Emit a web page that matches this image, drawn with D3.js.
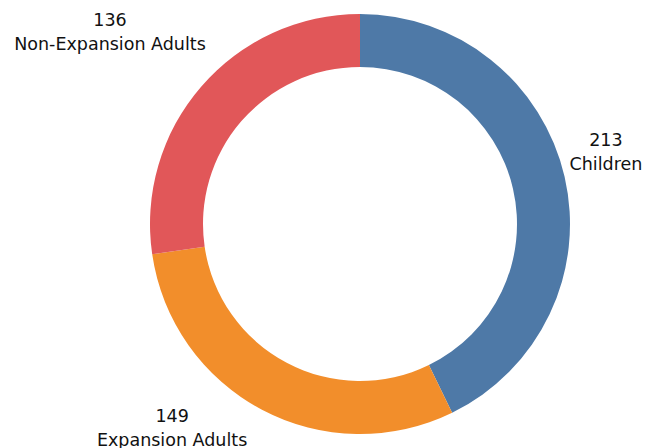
<!DOCTYPE html>
<html>
<head>
<meta charset="utf-8">
<script src="https://cdn.jsdelivr.net/npm/d3@7"></script>
<style>
  body { margin: 0; background: #fff; }
  svg text { font-family: "DejaVu Sans", sans-serif; font-size: 17.5px; fill: #111; }
</style>
</head>
<body>
<div id="chart"></div>
<script>
// enrollment groups (clockwise from 12 o'clock)
var groups = ["Children", "Expansion Adults", "Non-Expansion Adults"];
var counts = [213, 149, 136];
var colours = ["#4e79a7", "#f28e2b", "#e15759"];

// label spots: angle (deg clockwise from top) and distance from centre of the first line
var labelAngle = [72.4, 223.5, 308.4];
var labelDist = [258, 273, 319];

var width = 649, height = 448;
var cx = 360, cy = 224;

var svg = d3.select("#chart").append("svg")
  .attr("width", width)
  .attr("height", height);

var g = svg.append("g")
  .attr("transform", "translate(" + cx + "," + cy + ")");

var pie = d3.pie().sort(null).value(function (d) { return d; });
var arc = d3.arc().innerRadius(157).outerRadius(210);

var slices = pie(counts);

g.selectAll("path")
  .data(slices)
  .enter().append("path")
  .attr("d", arc)
  .attr("fill", function (d, i) { return colours[i]; });

// two-line labels: value then group name
var labels = g.selectAll("text")
  .data(slices)
  .enter().append("text")
  .attr("text-anchor", "middle")
  .attr("transform", function (d, i) {
    var a = labelAngle[i] * Math.PI / 180;
    return "translate(" + (Math.sin(a) * labelDist[i]) + "," + (-Math.cos(a) * labelDist[i]) + ")";
  });

labels.append("tspan")
  .attr("x", 0)
  .text(function (d) { return d.data; });

labels.append("tspan")
  .attr("x", 0)
  .attr("dy", 24)
  .text(function (d, i) { return groups[i]; });
</script>
</body>
</html>
